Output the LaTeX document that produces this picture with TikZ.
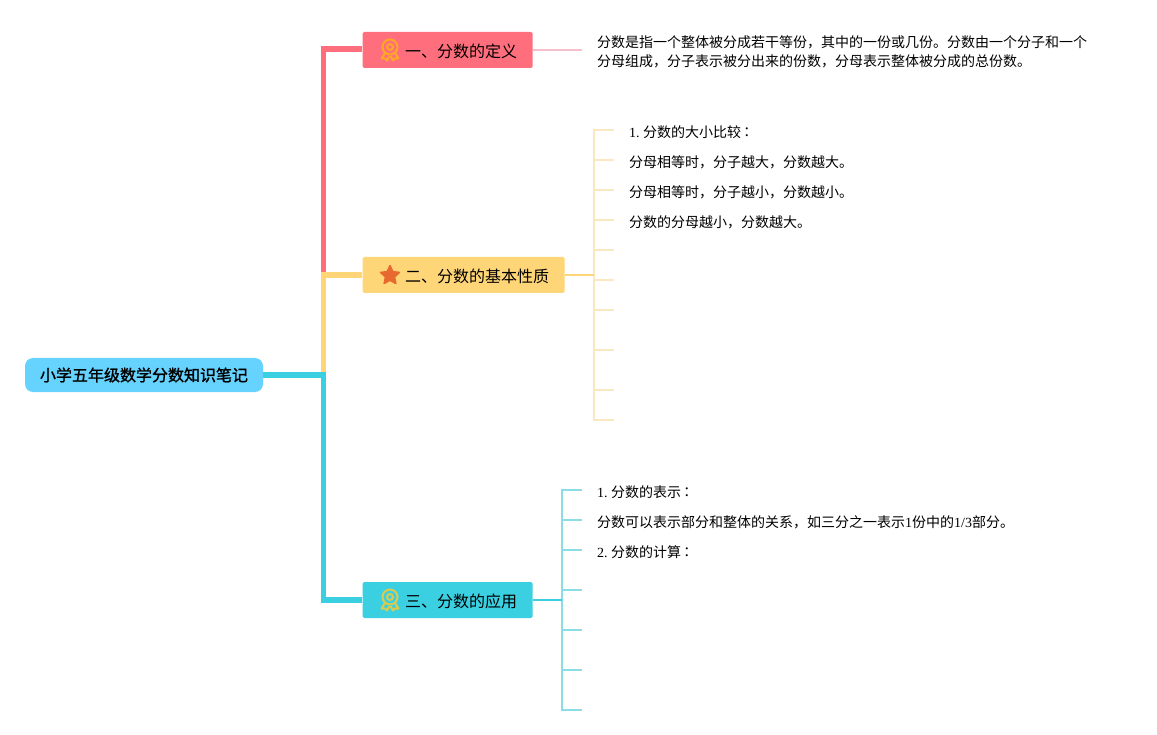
\documentclass[tikz,border=0pt]{standalone}
\usepackage{fontspec}
\setmainfont{Liberation Serif}
\newfontfamily\cjk{Noto Sans CJK SC}
\newfontfamily\cjktc{Noto Sans CJK TC}
\newfontfamily\cjkb{Noto Sans CJK SC}[FakeBold=1.2]
\usetikzlibrary{shapes.geometric,calc}
\definecolor{cpink}{HTML}{FF6E7C}
\definecolor{cyel}{HTML}{FFD677}
\definecolor{cteal}{HTML}{3AD0E2}
\definecolor{croot}{HTML}{66D3FF}
\definecolor{cpinkl}{HTML}{F6C0CB}
\definecolor{cyell}{HTML}{FAE8C0}
\definecolor{cteall}{HTML}{8ADDE6}
\definecolor{cmedala}{HTML}{FFA726}
\definecolor{cmedalb}{HTML}{D8CC50}
\definecolor{cstar}{HTML}{E8692F}
\tikzset{
  x=1pt,y=-1pt,
  rootbox/.style={fill=croot,rounded corners=8pt,minimum width=238pt,minimum height=34pt,inner sep=0pt,font=\fontsize{16}{18}\selectfont\cjkb},
  branchbox/.style={rounded corners=1.5pt,minimum height=36pt,inner sep=0pt},
  branchtext/.style={anchor=west,inner sep=0pt,font=\fontsize{16}{18}\selectfont\cjk},
  leaftext/.style={anchor=west,inner sep=0pt,font=\fontsize{14}{20}\selectfont\cjk},
  trunk/.style={line width=5.5pt,line join=miter},
  twig/.style={line width=2pt},
  medal/.style={line width=2pt},
}
\newcommand{\medalicon}[2]{%
  \begin{scope}[shift={(#1)}]
    \draw[medal,color=#2] (0,-3) circle (7.5);
    \draw[medal,color=#2] (0,-3) circle (3);
    \draw[medal,color=#2,line join=round] (-5,3) -- (-8.5,8.5) -- (-5,8.5) -- (-3,10.5) -- (-0.5,6);
    \draw[medal,color=#2,line join=round] (5,3) -- (8.5,8.5) -- (5,8.5) -- (3,10.5) -- (0.5,6);
  \end{scope}}
\newcommand{\colonmark}{{\cjktc ：}}
\begin{document}
\begin{tikzpicture}
\useasboundingbox (0,0) rectangle (1157,735);
% nodes
\node[rootbox] (root) at (144,375) {小学五年级数学分数知识笔记};
\node[branchbox,fill=cpink,minimum width=170pt] (b1) at (447.5,50) {};
\node[branchbox,fill=cyel,minimum width=202pt] (b2) at (463.5,275) {};
\node[branchbox,fill=cteal,minimum width=170pt] (b3) at (447.5,600) {};
\node[branchtext] (t1) at (405,51.5) {一、分数的定义};
\node[branchtext] (t2) at (405,276.5) {二、分数的基本性质};
\node[branchtext] (t3) at (405,601.5) {三、分数的应用};
% junctions
\coordinate (j0) at (323.5,375);
\coordinate (j1) at (323.5,49);
\coordinate (j2) at (323.5,275);
\coordinate (j3) at (323.5,600);
% trunks
\draw[trunk,cyel] (j0) -- (j2) -- (b2.west);
\draw[trunk,cpink] (j2) ++(0,-3) -- (j1) -- (j1-|b1.west);
\draw[trunk,cteal] (root.east) -- (j0) -- (j3) -- (b3.west);
% leaf text, definition
\coordinate (d1) at (582,50);
\draw[twig,cpinkl] (b1.east) -- (d1);
\node[leaftext] (l0a) at (597,42.5) {分数是指一个整体被分成若干等份，其中的一份或几份。分数由一个分子和一个};
\node[leaftext] (l0b) at (597,61.5) {分母组成，分子表示被分出来的份数，分母表示整体被分成的总份数。};
% yellow group
\coordinate (ys) at (594,275);
\foreach \n/\y in {1/130,2/160,3/190,4/220,5/250,6/280,7/310,8/350,9/390,10/420}{
  \coordinate (ya\n) at (594,\y);
  \coordinate (yb\n) at (614,\y);
}
\draw[twig,cyell] (yb1) -- (ya1) -- (ya10) -- (yb10);
\foreach \n in {2,...,9}{\draw[twig,cyell] (ya\n) -- (yb\n);}
\draw[twig,cyel] (b2.east) -- (ys);
\node[leaftext] (y1) at (629,132) {\rmfamily 1.\hspace{0.25em}{\cjk 分数的大小比较}\hspace{-0.1em}\colonmark};
\node[leaftext] (y2) at (629,162) {分母相等时，分子越大，分数越大。};
\node[leaftext] (y3) at (629,192) {分母相等时，分子越小，分数越小。};
\node[leaftext] (y4) at (629,222) {分数的分母越小，分数越大。};
% teal group
\coordinate (ts) at (562,600);
\foreach \n/\y in {1/490,2/520,3/550,4/590,5/630,6/670,7/710}{
  \coordinate (ta\n) at (562,\y);
  \coordinate (tb\n) at (582,\y);
}
\draw[twig,cteall] (tb1) -- (ta1) -- (ta7) -- (tb7);
\foreach \n in {2,...,6}{\draw[twig,cteall] (ta\n) -- (tb\n);}
\draw[twig,cteal] (b3.east) -- (ts);
\node[leaftext] (t1a) at (597,492) {\rmfamily 1.\hspace{0.25em}{\cjk 分数的表示}\hspace{-0.1em}\colonmark};
\node[leaftext] (t2a) at (597,522) {分数可以表示部分和整体的关系，如三分之一表示{\rmfamily 1}份中的{\rmfamily 1/3}部分。};
\node[leaftext] (t3a) at (597,552) {\rmfamily 2.\hspace{0.25em}{\cjk 分数的计算}\hspace{-0.1em}\colonmark};
% icons
\medalicon{390,50}{cmedala}
\node[star,star points=5,star point ratio=2.1,fill=cstar,draw=cstar,line width=1.5pt,line join=round,inner sep=0pt,minimum size=20pt] (s2) at (390,275.5) {};
\medalicon{390,600}{cmedalb}
\end{tikzpicture}
\end{document}
